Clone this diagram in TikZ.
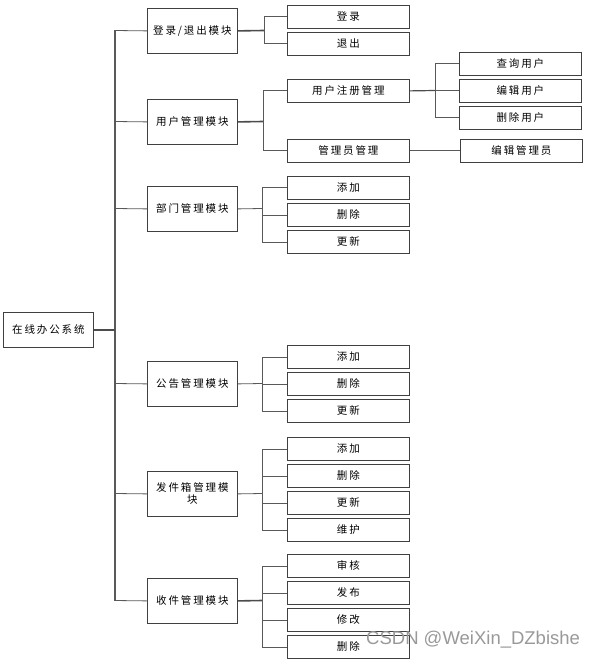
\documentclass[tikz,border=0pt]{standalone}
\usepackage{fontspec}
\setmainfont{Noto Sans CJK SC}[LetterSpace=18]
\newfontfamily\wmfont{Liberation Sans}
\begin{document}
\begin{tikzpicture}[x=1pt,y=-1pt,
  box/.style={draw=black!75,line width=0.8pt,fill=white,inner sep=0pt,font=\fontsize{10.5}{12}\selectfont,align=center},
  modbox/.style={box,minimum width=90pt,minimum height=45pt,anchor=north west,text width=84pt},
  leafbox/.style={box,minimum width=122pt,minimum height=23pt,anchor=north west},
  link/.style={draw=black!65,line width=0.8pt},
  thicklink/.style={draw=black!70,line width=1.6pt}]
\useasboundingbox (0,0) rectangle (593,660);
% root
\node[box,minimum width=90pt,minimum height=35pt,anchor=north west] (root) at (3,312) {在线办公系统};
% modules
\node[modbox] (m1) at (147,8) {登录/退出模块};
\node[modbox] (m2) at (147,99) {用户管理模块};
\node[modbox] (m3) at (147,186) {部门管理模块};
\node[modbox] (m4) at (147,361) {公告管理模块};
\node[modbox] (m5) at (147,471) {发件箱管理模\\块};
\node[modbox] (m6) at (147,578) {收件管理模块};
% trunk
\coordinate (t1) at (115,30.5);
\coordinate (t2) at (115,121.5);
\coordinate (t3) at (115,208.5);
\coordinate (t4) at (115,383.5);
\coordinate (t5) at (115,493.5);
\coordinate (t6) at (115,600.5);
\draw[link,line width=1.2pt] (t1) -- (t6);
\draw[thicklink] (root.east) -- (root.east -| t1);
\foreach \i in {1,...,6}{\draw[link] (t\i) -- (m\i.west);}
% leaves of m1
\node[leafbox] (l11) at (287,5) {登录};
\node[leafbox] (l12) at (287,32) {退出};
\coordinate (b1) at (264,30.5);
\draw[thicklink] (m1.east) -- (b1);
\foreach \j in {l11,l12}{\draw[link] (b1) |- (\j.west);}
% m2
\node[leafbox] (l21) at (287,79) {用户注册管理};
\node[leafbox] (l22) at (287,139) {管理员管理};
\coordinate (b2) at (263,121.5);
\draw[thicklink] (m2.east) -- (b2);
\foreach \j in {l21,l22}{\draw[link] (b2) |- (\j.west);}
\node[leafbox] (s1) at (459,52) {查询用户};
\node[leafbox] (s2) at (459,79) {编辑用户};
\node[leafbox] (s3) at (459,106) {删除用户};
\node[leafbox] (s4) at (460,139) {编辑管理员};
\coordinate (b21) at (435,90.5);
\draw[thicklink,line width=1.2pt] (l21.east) -- (b21);
\foreach \j in {s1,s2,s3}{\draw[link] (b21) |- (\j.west);}
\draw[link] (l22.east) -- (s4.west);
% m3
\node[leafbox] (l31) at (287,176) {添加};
\node[leafbox] (l32) at (287,203) {删除};
\node[leafbox] (l33) at (287,230) {更新};
\coordinate (b3) at (262,208.5);
\draw[link] (m3.east) -- (b3);
\foreach \j in {l31,l32,l33}{\draw[link] (b3) |- (\j.west);}
% m4
\node[leafbox] (l41) at (287,345) {添加};
\node[leafbox] (l42) at (287,372) {删除};
\node[leafbox] (l43) at (287,399) {更新};
\coordinate (b4) at (262,383.5);
\draw[link] (m4.east) -- (b4);
\foreach \j in {l41,l42,l43}{\draw[link] (b4) |- (\j.west);}
% m5
\node[leafbox] (l51) at (287,437) {添加};
\node[leafbox] (l52) at (287,464) {删除};
\node[leafbox] (l53) at (287,491) {更新};
\node[leafbox] (l54) at (287,518) {维护};
\coordinate (b5) at (262,493.5);
\draw[link] (m5.east) -- (b5);
\foreach \j in {l51,l52,l53,l54}{\draw[link] (b5) |- (\j.west);}
% m6
\node[leafbox] (l61) at (287,554) {审核};
\node[leafbox] (l62) at (287,581) {发布};
\node[leafbox] (l63) at (287,608) {修改};
\node[leafbox] (l64) at (287,635) {删除};
\coordinate (b6) at (262,600.5);
\draw[thicklink] (m6.east) -- (b6);
\foreach \j in {l61,l62,l63,l64}{\draw[link] (b6) |- (\j.west);}
% watermark
\node[anchor=west,text=black!40,font=\wmfont\fontsize{18.5}{20}\selectfont,inner sep=0pt] (wm) at (366,640) {CSDN @WeiXin\_DZbishe};
\end{tikzpicture}
\end{document}
